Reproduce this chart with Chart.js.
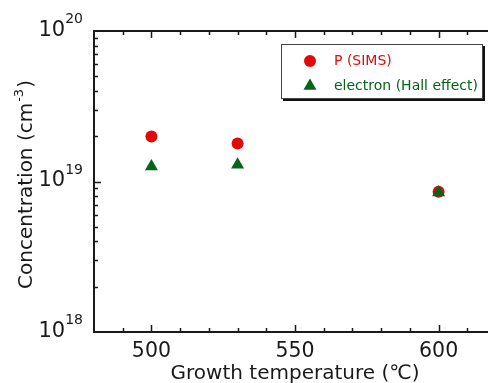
<!DOCTYPE html>
<html>
<head>
<meta charset="utf-8">
<script src="https://cdn.jsdelivr.net/npm/chart.js@4.4.1/dist/chart.umd.min.js"></script>
<style>
html,body{margin:0;padding:0;background:#fff;overflow:hidden;width:488px;height:383px;}
canvas{display:block;}
</style>
</head>
<body>
<canvas id="c" width="488" height="383" style="width:488px;height:383px"></canvas>
<script>
const temperatures = [500, 530, 600];
const pSims = [1.99e19, 1.79e19, 8.55e18];
const electron = [1.26e19, 1.29e19, 8.45e18];
const seriesNames = ['P (SIMS)', 'electron (Hall effect)'];
const xTickLabels = [500, 550, 600];
const yTickExponents = [18, 19, 20];
const xTitle = 'Growth temperature (\u2103)';
const yTitleMain = 'Concentration (cm';
const yTitleSup = '-3';
const yTitleEnd = ')';

const RED = '#e00a0a';
const GREEN = '#05631a';
const FONT = '"DejaVu Sans", "Noto Sans CJK JP", sans-serif';

const decor = {
  id: 'decor',
  afterDraw(chart) {
    const ctx = chart.ctx;
    const xs = chart.scales.x, ys = chart.scales.y;
    const a = chart.chartArea;
    ctx.save();
    ctx.strokeStyle = '#1a1a1a';
    // frame (right side lies beyond the visible canvas)
    ctx.lineWidth = 2;
    ctx.beginPath();
    ctx.moveTo(a.right + 2, a.top); ctx.lineTo(a.left, a.top); ctx.lineTo(a.left, a.bottom); ctx.lineTo(a.right + 2, a.bottom);
    ctx.stroke();
    // x ticks
    ctx.lineWidth = 1.5;
    ctx.beginPath();
    for (let v = 490; v < xs.max; v += 10) {
      const px = Math.round(xs.getPixelForValue(v)) + 0.5;
      const len = (v % 50 === 0) ? 7 : 4;
      ctx.moveTo(px, a.bottom); ctx.lineTo(px, a.bottom - len);
      ctx.moveTo(px, a.top); ctx.lineTo(px, a.top + len);
    }
    // y ticks
    for (let d = yTickExponents[0]; d < yTickExponents[yTickExponents.length - 1]; d++) {
      for (let m = 1; m <= 9; m++) {
        if (d === yTickExponents[0] && m === 1) continue;
        const py = Math.round(ys.getPixelForValue(m * Math.pow(10, d))) + 0.5;
        const len = (m === 1) ? 7 : 4;
        ctx.moveTo(a.left, py); ctx.lineTo(a.left + len, py);
      }
    }
    ctx.stroke();

    ctx.fillStyle = '#1a1a1a';
    // x tick labels
    ctx.font = '20.5px ' + FONT;
    ctx.textAlign = 'center';
    ctx.textBaseline = 'alphabetic';
    xTickLabels.forEach(v => {
      ctx.fillText(String(v), xs.getPixelForValue(v), a.bottom + 25);
    });
    // y tick labels 10^n
    yTickExponents.forEach(e => {
      const py = ys.getPixelForValue(Math.pow(10, e));
      ctx.font = '14px ' + FONT;
      const supW = ctx.measureText(String(e)).width;
      const supX = a.left - 11 - supW;
      ctx.textAlign = 'left';
      ctx.fillText(String(e), supX, py - 8);
      ctx.font = '21px ' + FONT;
      ctx.textAlign = 'right';
      ctx.fillText('10', supX, py + 4.5);
    });
    // x title, centred under 550
    ctx.font = '20px ' + FONT;
    ctx.textAlign = 'center';
    ctx.fillText(xTitle, xs.getPixelForValue(550), 379);
    // y title rotated
    ctx.save();
    ctx.translate(32, (a.top + a.bottom) / 2 + 4);
    ctx.rotate(-Math.PI / 2);
    ctx.font = '20px ' + FONT;
    const w1 = ctx.measureText(yTitleMain).width;
    ctx.font = '13px ' + FONT;
    const w2 = ctx.measureText(yTitleSup).width;
    ctx.font = '20px ' + FONT;
    const w3 = ctx.measureText(yTitleEnd).width;
    let sx = -(w1 + w2 + w3) / 2;
    ctx.textAlign = 'left';
    ctx.fillText(yTitleMain, sx, 0);
    ctx.font = '13px ' + FONT;
    ctx.fillText(yTitleSup, sx + w1 + 1, -9);
    ctx.font = '20px ' + FONT;
    ctx.fillText(yTitleEnd, sx + w1 + w2 + 2, 0);
    ctx.restore();

    // legend
    const lx = 281, ly = 44, lw = 202, lh = 55;
    ctx.fillStyle = '#111';
    ctx.fillRect(lx + 2, ly + 2, lw, lh);
    ctx.fillStyle = '#fff';
    ctx.fillRect(lx, ly, lw, lh);
    ctx.lineWidth = 1;
    ctx.strokeStyle = '#444';
    ctx.strokeRect(lx + 0.5, ly + 0.5, lw - 1, lh - 1);
    const items = [
      {name: seriesNames[0], color: RED, style: 'circle', r: 6, y: 61},
      {name: seriesNames[1], color: GREEN, style: 'triangle', r: 7.5, y: 86}
    ];
    ctx.font = '14px ' + FONT;
    ctx.textAlign = 'left';
    ctx.textBaseline = 'middle';
    items.forEach(it => {
      ctx.fillStyle = it.color;
      ctx.beginPath();
      if (it.style === 'circle') {
        ctx.arc(310, it.y, it.r, 0, Math.PI * 2);
      } else {
        const r = it.r;
        ctx.moveTo(310, it.y - r);
        ctx.lineTo(310 + r * Math.sqrt(3) / 2, it.y + r / 2);
        ctx.lineTo(310 - r * Math.sqrt(3) / 2, it.y + r / 2);
        ctx.closePath();
      }
      ctx.fill();
      ctx.fillText(it.name, 334, it.y + 0.5);
    });
    ctx.restore();
  }
};

new Chart(document.getElementById('c'), {
  type: 'scatter',
  data: {
    datasets: [
      {
        label: seriesNames[0],
        data: temperatures.map((t, i) => ({x: t, y: pSims[i]})),
        pointStyle: 'circle',
        pointRadius: 6,
        pointHoverRadius: 6,
        backgroundColor: RED,
        borderColor: RED,
        borderWidth: 0,
        order: 1
      },
      {
        label: seriesNames[1],
        data: temperatures.map((t, i) => ({x: t, y: electron[i]})),
        pointStyle: 'triangle',
        pointRadius: 7.5,
        pointHoverRadius: 7.5,
        backgroundColor: GREEN,
        borderColor: GREEN,
        borderWidth: 0,
        order: 0
      }
    ]
  },
  options: {
    responsive: false,
    animation: false,
    devicePixelRatio: 1,
    layout: {autoPadding: false, padding: {left: 94, top: 31, right: 0, bottom: 51}},
    plugins: {legend: {display: false}, tooltip: {enabled: false}},
    scales: {
      x: {type: 'linear', min: 480, max: 617.2, display: false},
      y: {type: 'logarithmic', min: 1e18, max: 1e20, display: false}
    }
  },
  plugins: [decor]
});
</script>
</body>
</html>
